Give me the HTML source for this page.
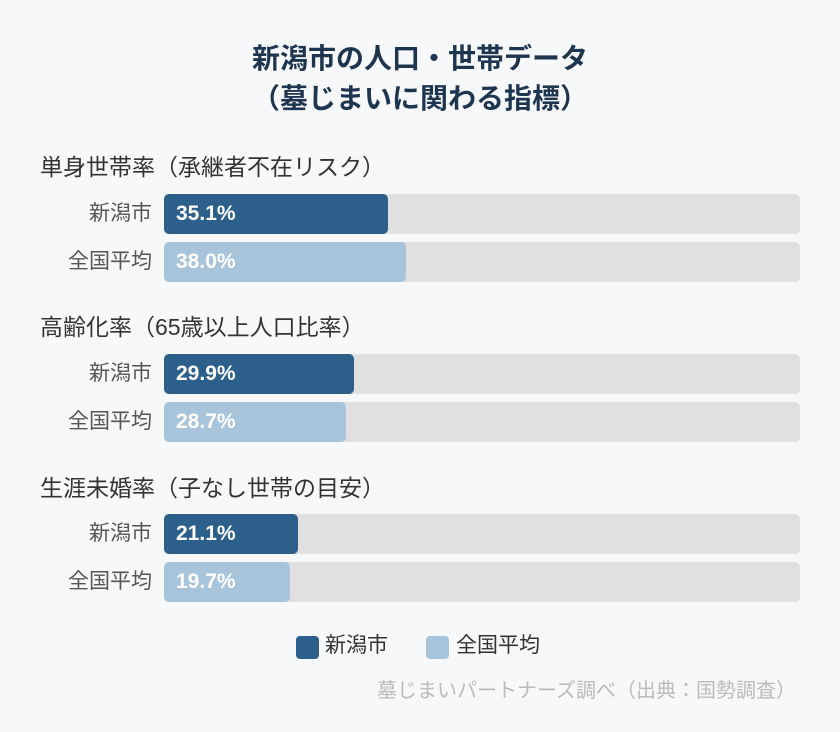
<!DOCTYPE html>
<html><head><meta charset="utf-8"><style>
body{margin:0;width:840px;height:732px;background:#f7f8fa;font-family:"Liberation Sans","Noto Sans CJK JP",sans-serif;position:relative;overflow:hidden}
.t{position:absolute;left:0;width:840px;text-align:center;font-weight:bold;font-size:28px;line-height:40px;color:#1e3550}
.g{position:absolute;left:40px;font-size:23px;line-height:30px;color:#333}
.l{position:absolute;left:40px;width:112px;text-align:right;font-size:21px;color:#555;line-height:40px}
.tr{position:absolute;left:164px;width:636px;height:40px;background:#e0e0e0;border-radius:5px}
.b{position:absolute;left:0;top:0;height:40px;border-radius:5px;color:#fff;font-weight:bold;font-size:21px;line-height:40px;padding-left:12px;box-sizing:border-box}
.d{background:#2c5f8a}.c{background:#a8c4da}
</style></head><body>
<div class="t" style="top:39px">新潟市の人口・世帯データ</div>
<div class="t" style="top:79px">（墓じまいに関わる指標）</div>

<div class="g" style="top:152px">単身世帯率（承継者不在リスク）</div>
<div class="l" style="top:194px">新潟市</div><div class="tr" style="top:194px"><div class="b d" style="width:224px">35.1%</div></div>
<div class="l" style="top:242px">全国平均</div><div class="tr" style="top:242px"><div class="b c" style="width:242px">38.0%</div></div>

<div class="g" style="top:312px">高齢化率（65歳以上人口比率）</div>
<div class="l" style="top:354px">新潟市</div><div class="tr" style="top:354px"><div class="b d" style="width:190px">29.9%</div></div>
<div class="l" style="top:402px">全国平均</div><div class="tr" style="top:402px"><div class="b c" style="width:182px">28.7%</div></div>

<div class="g" style="top:473px">生涯未婚率（子なし世帯の目安）</div>
<div class="l" style="top:514px">新潟市</div><div class="tr" style="top:514px"><div class="b d" style="width:134px">21.1%</div></div>
<div class="l" style="top:562px">全国平均</div><div class="tr" style="top:562px"><div class="b c" style="width:126px">19.7%</div></div>

<div style="position:absolute;top:636px;left:296px;width:23px;height:23px;border-radius:4px;background:#2c5f8a"></div>
<div style="position:absolute;top:632px;left:325px;font-size:21px;line-height:28px;color:#333">新潟市</div>
<div style="position:absolute;top:636px;left:426px;width:23px;height:23px;border-radius:4px;background:#a8c4da"></div>
<div style="position:absolute;top:632px;left:456px;font-size:21px;line-height:28px;color:#333">全国平均</div>
<div style="position:absolute;top:678px;right:44px;font-size:20px;line-height:26px;color:#bbb">墓じまいパートナーズ調べ（出典：国勢調査）</div>
</body></html>
